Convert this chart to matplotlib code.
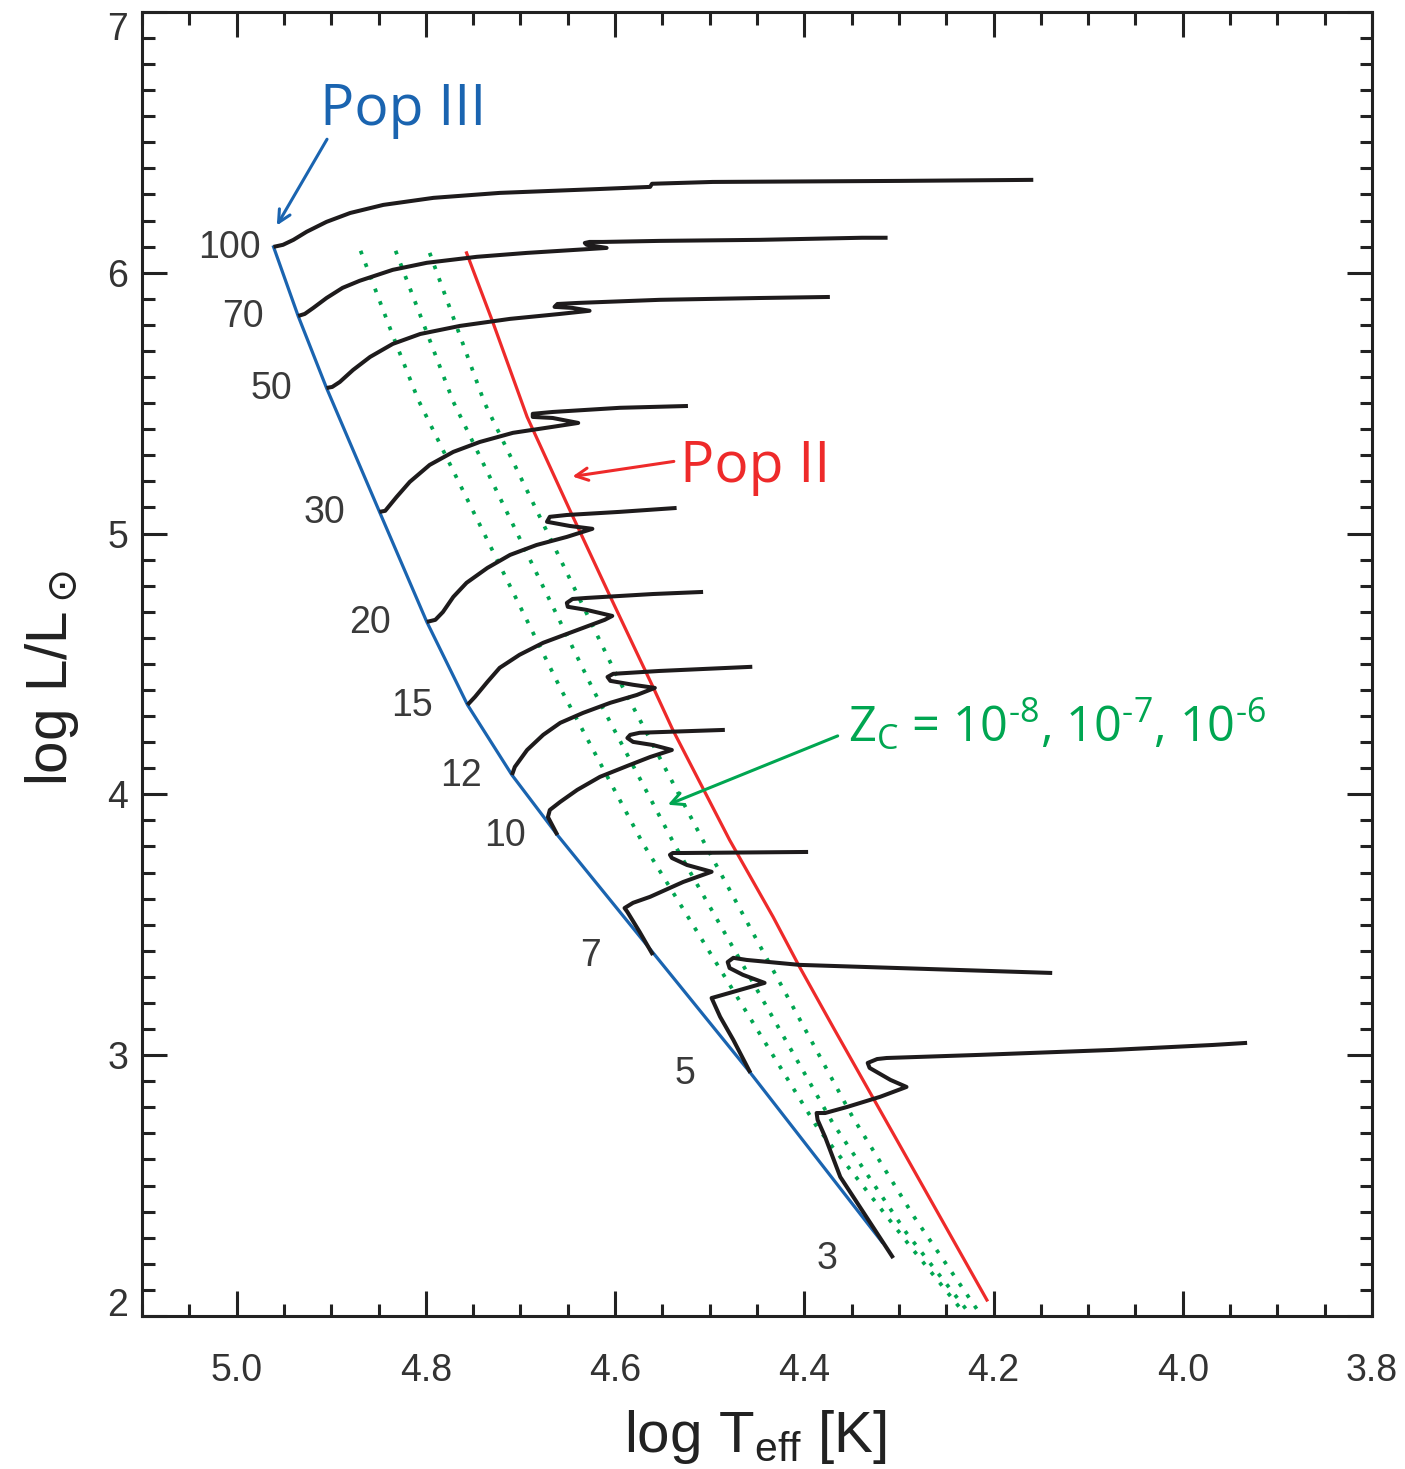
import matplotlib
matplotlib.use('Agg')
import matplotlib.pyplot as plt
from matplotlib.ticker import MultipleLocator, FormatStrFormatter

plt.rcParams['font.family'] = ['Liberation Sans', 'DejaVu Sans']
plt.rcParams['axes.unicode_minus'] = False

# --- data: log Teff / log L ---
# Pop III zero-age main sequence
zams_T = [4.961, 4.935, 4.905, 4.849, 4.799, 4.756, 4.709, 4.661, 4.558, 4.457, 4.318]
zams_L = [6.099, 5.834, 5.558, 5.083, 4.661, 4.343, 4.074, 3.844, 3.384, 2.932, 2.284]

# Pop II zero-age main sequence
pop2_T = [4.757, 4.729, 4.693, 4.648, 4.605, 4.560, 4.539, 4.479, 4.433, 4.405, 4.368, 4.304, 4.207]
pop2_L = [6.076, 5.808, 5.447, 5.091, 4.757, 4.412, 4.247, 3.825, 3.530, 3.338, 3.097, 2.686, 2.061]

# onset of CN cycle for Z_C = 1e-8, 1e-7, 1e-6
zc8_T = [4.869, 4.836, 4.808, 4.658, 4.571, 4.386, 4.290, 4.232]
zc8_L = [6.084, 5.769, 5.512, 4.408, 3.814, 2.721, 2.276, 2.015]
zc7_T = [4.832, 4.771, 4.623, 4.537, 4.370, 4.292, 4.226]
zc7_L = [6.084, 5.505, 4.400, 3.806, 2.740, 2.318, 2.012]
zc6_T = [4.796, 4.738, 4.597, 4.503, 4.349, 4.284, 4.215]
zc6_L = [6.076, 5.501, 4.446, 3.795, 2.763, 2.380, 2.012]

# evolutionary tracks (Msun)
m100_T = [4.961, 4.951, 4.940, 4.926, 4.905, 4.880, 4.845, 4.792, 4.722, 4.616, 4.563, 4.561, 4.497, 4.299, 4.158]
m100_L = [6.099, 6.107, 6.126, 6.157, 6.195, 6.229, 6.260, 6.287, 6.306, 6.321, 6.329, 6.341, 6.348, 6.352, 6.356]
m70_T = [4.935, 4.928, 4.919, 4.905, 4.888, 4.870, 4.835, 4.799, 4.746, 4.693, 4.640, 4.609,
         4.630, 4.632, 4.627, 4.613, 4.553, 4.447, 4.339, 4.312]
m70_L = [5.834, 5.842, 5.865, 5.903, 5.942, 5.969, 6.011, 6.038, 6.061, 6.076, 6.088, 6.095,
         6.107, 6.114, 6.118, 6.118, 6.122, 6.126, 6.134, 6.134]
m50_T = [4.905, 4.899, 4.891, 4.877, 4.859, 4.835, 4.806, 4.764, 4.711, 4.658, 4.627,
         4.645, 4.664, 4.661, 4.640, 4.553, 4.447, 4.373]
m50_L = [5.558, 5.562, 5.581, 5.627, 5.677, 5.727, 5.765, 5.796, 5.823, 5.842, 5.854,
         5.865, 5.869, 5.880, 5.884, 5.896, 5.903, 5.907]
m30_T = [4.849, 4.843, 4.831, 4.817, 4.796, 4.771, 4.743, 4.708, 4.666, 4.639,
         4.666, 4.687, 4.687, 4.666, 4.595, 4.523]
m30_L = [5.083, 5.087, 5.140, 5.198, 5.263, 5.313, 5.351, 5.386, 5.409, 5.424,
         5.443, 5.447, 5.459, 5.466, 5.482, 5.489]
m20_T = [4.799, 4.790, 4.782, 4.771, 4.757, 4.735, 4.711, 4.683, 4.651, 4.624,
         4.648, 4.672, 4.669, 4.651, 4.595, 4.535]
m20_L = [4.661, 4.669, 4.699, 4.757, 4.811, 4.868, 4.918, 4.956, 4.987, 5.018,
         5.029, 5.045, 5.064, 5.071, 5.083, 5.098]
m15_T = [4.756, 4.748, 4.735, 4.722, 4.701, 4.676, 4.648, 4.611, 4.603,
         4.630, 4.650, 4.651, 4.645, 4.630, 4.560, 4.507]
m15_L = [4.343, 4.374, 4.431, 4.485, 4.535, 4.581, 4.619, 4.669, 4.684,
         4.707, 4.719, 4.734, 4.749, 4.753, 4.768, 4.776]
m12_T = [4.709, 4.706, 4.693, 4.676, 4.658, 4.634, 4.605, 4.577, 4.558,
         4.581, 4.605, 4.608, 4.602, 4.553, 4.455]
m12_L = [4.074, 4.105, 4.170, 4.228, 4.274, 4.312, 4.351, 4.381, 4.408,
         4.420, 4.435, 4.450, 4.462, 4.473, 4.489]
m10_T = [4.661, 4.671, 4.669, 4.658, 4.640, 4.616, 4.587, 4.563, 4.540,
         4.560, 4.581, 4.587, 4.584, 4.574, 4.484]
m10_L = [3.844, 3.913, 3.940, 3.971, 4.017, 4.067, 4.109, 4.143, 4.170,
         4.189, 4.201, 4.216, 4.228, 4.236, 4.247]
m7_T = [4.560, 4.574, 4.587, 4.590, 4.581, 4.563, 4.528, 4.498,
        4.524, 4.540, 4.542, 4.539, 4.528, 4.396]
m7_L = [3.384, 3.472, 3.549, 3.564, 3.584, 3.607, 3.664, 3.703,
        3.729, 3.756, 3.768, 3.775, 3.775, 3.779]
m5_T = [4.457, 4.475, 4.489, 4.498, 4.494, 4.468, 4.442, 4.465, 4.479, 4.481, 4.475, 4.461, 4.405, 4.138]
m5_L = [2.932, 3.058, 3.147, 3.219, 3.223, 3.250, 3.277, 3.308, 3.334, 3.357, 3.373, 3.365, 3.346, 3.315]
m3_T = [4.306, 4.362, 4.378, 4.386, 4.387, 4.378, 4.355, 4.320, 4.292,
        4.309, 4.331, 4.333, 4.323, 4.313, 4.214, 4.074, 3.968, 3.932]
m3_L = [2.222, 2.533, 2.686, 2.752, 2.778, 2.778, 2.801, 2.840, 2.878,
        2.905, 2.951, 2.970, 2.985, 2.989, 3.001, 3.020, 3.039, 3.047]

masses = ['100', '70', '50', '30', '20', '15', '12', '10', '7', '5', '3']
tracks = [(m100_T, m100_L), (m70_T, m70_L), (m50_T, m50_L), (m30_T, m30_L),
          (m20_T, m20_L), (m15_T, m15_L), (m12_T, m12_L), (m10_T, m10_L),
          (m7_T, m7_L), (m5_T, m5_L), (m3_T, m3_L)]
label_dx = [-32, -40, -40, -40, -41, -40, -37, -38, -45, -47, -48]

BLUE = '#1a64b0'
RED = '#ee2a2a'
GREEN = '#00a651'
BLACK = '#1e1b1c'

fig = plt.figure(figsize=(14.05, 14.69), dpi=100)
ax = fig.add_axes([0.1011, 0.1042, 0.8754, 0.8877])

ax.plot(zams_T, zams_L, color=BLUE, lw=2.3)
ax.plot(pop2_T, pop2_L, color=RED, lw=2.3)
for xs, ys in [(zc8_T, zc8_L), (zc7_T, zc7_L), (zc6_T, zc6_L)]:
    ax.plot(xs, ys, color=GREEN, lw=2.7, linestyle=(0, (1, 2.6)))

for (xs, ys), m, dx in zip(tracks, masses, label_dx):
    ax.plot(xs, ys, color=BLACK, lw=2.9, solid_joinstyle='round', solid_capstyle='butt')
    ax.annotate(m, (xs[0], ys[0]), xytext=(dx, -1), textcoords='offset points',
                ha='center', va='center', fontsize=27, color='#3a3a3a')

# annotations
ann_font = ['Open Sans', 'DejaVu Sans']
ax.text(4.912, 6.567, 'Pop III', color=BLUE, fontsize=41, family=ann_font, ha='left', va='baseline')
ax.annotate('', xy=(4.959, 6.172), xytext=(4.903, 6.521),
            arrowprops=dict(arrowstyle='->', color=BLUE, lw=2.2, mutation_scale=22))
ax.text(4.531, 5.198, 'Pop II', color=RED, fontsize=41, family=ann_font, ha='left', va='baseline')
ax.annotate('', xy=(4.648, 5.217), xytext=(4.535, 5.278),
            arrowprops=dict(arrowstyle='->', color=RED, lw=2.2, mutation_scale=22))
ax.text(4.354, 4.201,
        'Z$_\\mathregular{C}$ = 10$^\\mathregular{\u20108}$, 10$^\\mathregular{\u20107}$, 10$^\\mathregular{\u20106}$',
        color=GREEN, fontsize=35, family=ann_font, ha='left', va='baseline')
ax.annotate('', xy=(4.547, 3.956), xytext=(4.362, 4.228),
            arrowprops=dict(arrowstyle='->', color=GREEN, lw=2.2, mutation_scale=22))

ax.set_xlim(5.1, 3.8)
ax.set_ylim(2, 7)
ax.xaxis.set_major_locator(MultipleLocator(0.2))
ax.xaxis.set_minor_locator(MultipleLocator(0.05))
ax.yaxis.set_major_locator(MultipleLocator(1))
ax.yaxis.set_minor_locator(MultipleLocator(0.1))
ax.xaxis.set_major_formatter(FormatStrFormatter('%.1f'))
ax.yaxis.set_major_formatter(FormatStrFormatter('%d'))
ax.tick_params(which='both', direction='in', top=True, right=True, width=2.2,
               color='#222222', labelcolor='#333333', labelsize=27)
ax.tick_params(which='major', length=18)
ax.tick_params(which='minor', length=9)
ax.tick_params(axis='x', pad=27)
ax.tick_params(axis='y', pad=10)
for sp in ax.spines.values():
    sp.set_linewidth(2.2)
    sp.set_color('#222222')

fig.canvas.draw()
for lab in ax.get_yticklabels():
    if lab.get_text() == '2':
        lab.set_va('baseline')
    elif lab.get_text() == '7':
        lab.set_va('top')

fig.text(52 / 1405, 1 - 678 / 1469, r'log L/L$_\odot$', rotation=90, ha='center', va='center',
         fontsize=42, color='#222222')
fig.text(755 / 1405, 1 - 1452 / 1469, r'log T$_\mathregular{eff}$ [K]', ha='center', va='baseline',
         fontsize=42, color='#222222')

fig.savefig('out.png', dpi=100)
